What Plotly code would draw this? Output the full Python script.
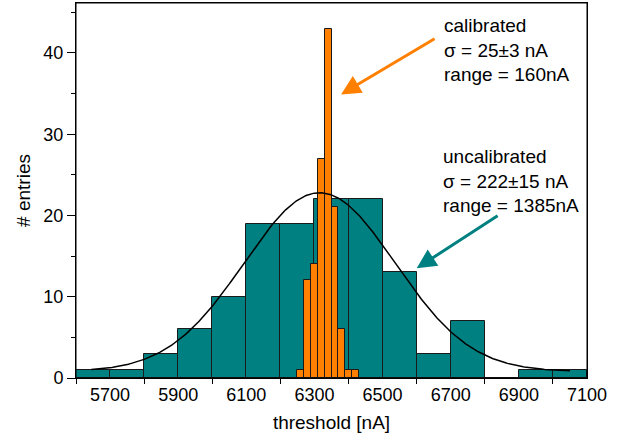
import numpy as np
import plotly.graph_objects as go

# ---- data ----
uncal_bin_left = [5600, 5700, 5800, 5900, 6000, 6100, 6200, 6300, 6400, 6500, 6600, 6700, 6800, 6900, 7000]
uncal_counts = [1, 1, 3, 6, 10, 19, 19, 22, 22, 13, 3, 7, 0, 1, 1]
uncal_bin_width = 100

cal_bin_left = [6250, 6270, 6290, 6310, 6330, 6350, 6370, 6390, 6410]
cal_counts = [1, 12, 14, 27, 43, 21, 6, 1, 1]
cal_bin_width = 20

# Gaussian fit parameters of the uncalibrated distribution
fit_y0 = 0.8
fit_amp = 22.0
fit_mu = 6315
fit_sigma = 222
fit_xmin, fit_xmax = 5645, 7050

x_tick_labels = [5700, 5900, 6100, 6300, 6500, 6700, 6900, 7100]
x_tick_marks = [5600, 5800, 6000, 6200, 6400, 6600, 6800, 7000]

TEAL = "#008080"
ORANGE = "#FF8000"
FONT = "Liberation Sans, Arial, sans-serif"

fig = go.Figure()

fig.add_trace(go.Bar(
    x=[l + uncal_bin_width / 2 for l in uncal_bin_left],
    y=uncal_counts,
    width=uncal_bin_width,
    marker=dict(color=TEAL, line=dict(color="#1a1a1a", width=1)),
    showlegend=False,
))

fx = np.linspace(fit_xmin, fit_xmax, 400)
fy = fit_y0 + fit_amp * np.exp(-((fx - fit_mu) ** 2) / (2 * fit_sigma ** 2))
fig.add_trace(go.Scatter(
    x=fx, y=fy, mode="lines",
    line=dict(color="black", width=1.5),
    showlegend=False,
))

fig.add_trace(go.Bar(
    x=[l + cal_bin_width / 2 for l in cal_bin_left],
    y=cal_counts,
    width=cal_bin_width,
    marker=dict(color=ORANGE, line=dict(color="#1a1a1a", width=1)),
    showlegend=False,
))

fig.update_layout(
    width=631, height=436,
    margin=dict(l=76, r=44, t=3, b=58, autoexpand=False),
    plot_bgcolor="white", paper_bgcolor="white",
    barmode="overlay", bargap=0,
    font=dict(family=FONT, size=18, color="black"),
    xaxis=dict(
        range=[5600, 7100], automargin=False,
        tickmode="array", tickvals=x_tick_labels,
        ticktext=[str(v) for v in x_tick_labels],
        ticks="", showgrid=False, zeroline=False,
        showline=True, linecolor="black", linewidth=1, mirror=True,
        minor=dict(tickmode="array", tickvals=x_tick_marks, ticks="outside",
                   ticklen=5, tickcolor="black", tickwidth=1, showgrid=False),
        title=dict(text="threshold [nA]", standoff=12, font=dict(size=19)),
        tickfont=dict(size=18),
    ),
    yaxis=dict(
        range=[0, 46.15], automargin=False,
        tickmode="linear", tick0=0, dtick=10,
        ticks="outside", ticklen=8, tickcolor="black", tickwidth=1,
        showgrid=False, zeroline=False,
        showline=True, linecolor="black", linewidth=1, mirror=True,
        minor=dict(dtick=5, ticks="outside", ticklen=4, tickcolor="black",
                   tickwidth=1, showgrid=False),
        title=dict(text="# entries", standoff=7, font=dict(size=19)),
        tickfont=dict(size=18),
    ),
)

# frame box
fig.add_shape(type="rect", xref="paper", yref="paper", x0=0, x1=1, y0=0, y1=1,
              line=dict(color="black", width=1), fillcolor="rgba(0,0,0,0)",
              layer="above")

# arrows
fig.add_annotation(x=6378, y=34.9, ax=6657, ay=41.85, xref="x", yref="y",
                   axref="x", ayref="y", text="", showarrow=True,
                   arrowhead=2, arrowsize=1.3, arrowwidth=3, arrowcolor=ORANGE)
fig.add_annotation(x=6600, y=13.5, ax=6842, ay=20.1, xref="x", yref="y",
                   axref="x", ayref="y", text="", showarrow=True,
                   arrowhead=2, arrowsize=1.3, arrowwidth=3, arrowcolor=TEAL)

# texts
fig.add_annotation(x=6674, y=44.9, xref="x", yref="y", xanchor="left", yanchor="top",
                   align="left", showarrow=False,
                   text="calibrated<br>σ = 25±3 nA<br>range = 160nA",
                   font=dict(size=19))
fig.add_annotation(x=6672, y=28.75, xref="x", yref="y", xanchor="left", yanchor="top",
                   align="left", showarrow=False,
                   text="uncalibrated<br>σ = 222±15 nA<br>range = 1385nA",
                   font=dict(size=19))

fig.write_html(
    "out.html", config={"displayModeBar": False},
    post_script=("document.body.style.margin='0';"
                 "document.documentElement.style.overflow='hidden';"
                 "window.scrollTo(0,0);"),
)
